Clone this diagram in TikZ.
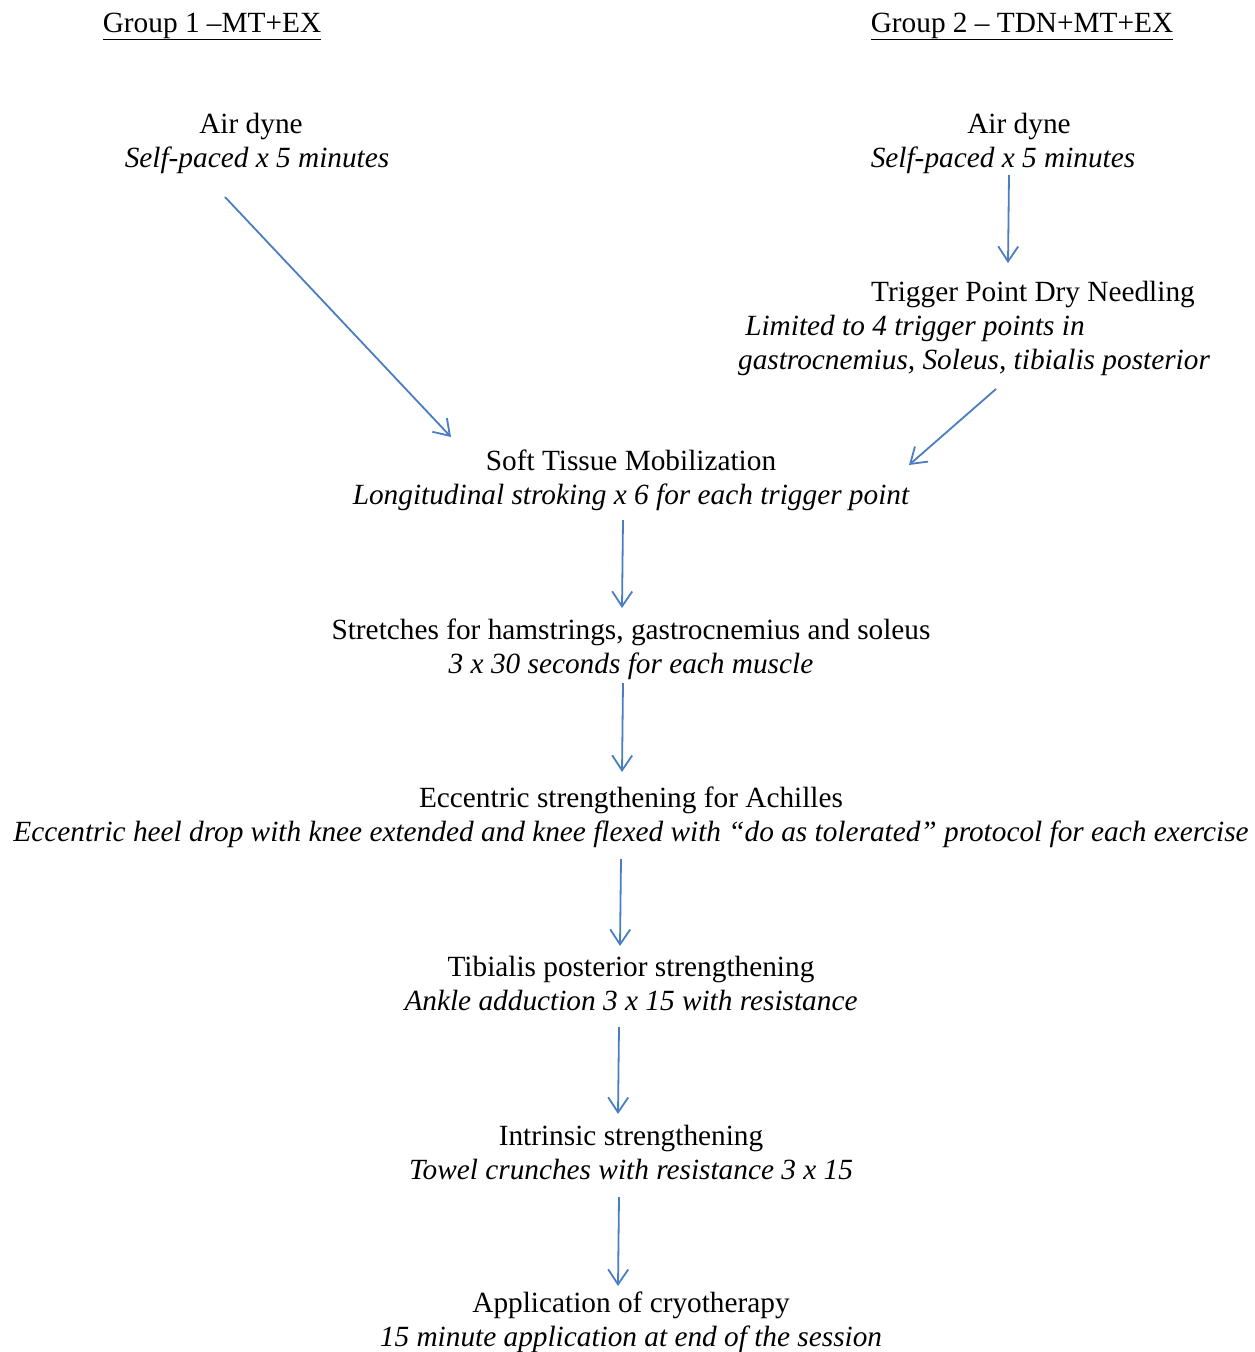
\documentclass[tikz,border=0pt]{standalone}
\usepackage{fontspec}
\setmainfont{Liberation Serif}
\usetikzlibrary{arrows.meta,calc}
\definecolor{arrblue}{HTML}{4A7EC0}
\begin{document}
\begin{tikzpicture}[x=1pt,y=-1pt,
  txt/.style={anchor=base,inner sep=0pt,font=\fontsize{29.3}{34}\selectfont},
  sub/.style={txt,font=\fontsize{29.3}{34}\selectfont\itshape},
  arr/.style={draw=arrblue,line width=1.8pt,-{Straight Barb[length=15pt,width=20pt]}}]
\useasboundingbox (0,0) rectangle (1255,1352);
% headers
\node[txt] (g1) at (212,32) {\underline{Group 1 –MT+EX}};
\node[txt] (g2) at (1022,32) {\underline{Group 2 – TDN+MT+EX}};
% left air dyne
\node[txt] (la1) at (251,133) {Air dyne};
\node[sub] (la2) at (257,167) {Self-paced x 5 minutes};
% right air dyne
\node[txt] (ra1) at (1019,133) {Air dyne};
\node[sub] (ra2) at (1003,167) {Self-paced x 5 minutes};
% trigger point
\node[txt] (tp1) at (1033,301) {Trigger Point Dry Needling};
\node[sub] (tp2) at (915,335) {Limited to 4 trigger points in};
\node[sub] (tp3) at (974,369) {gastrocnemius, Soleus, tibialis posterior};
% main column
\node[txt] (st1) at (631,470) {Soft Tissue Mobilization};
\node[sub] (st2) at (631,504) {Longitudinal stroking x 6 for each trigger point};
\node[txt] (sh1) at (631,639) {Stretches for hamstrings, gastrocnemius and soleus};
\node[sub] (sh2) at (631,673) {3 x 30 seconds for each muscle};
\node[txt] (ec1) at (631,807) {Eccentric strengthening for Achilles};
\node[sub] (ec2) at (631,841) {Eccentric heel drop with knee extended and knee flexed with “do as tolerated” protocol for each exercise};
\node[txt] (tb1) at (631,976) {Tibialis posterior strengthening};
\node[sub] (tb2) at (631,1010) {Ankle adduction 3 x 15 with resistance};
\node[txt] (in1) at (631,1145) {Intrinsic strengthening};
\node[sub] (in2) at (631,1179) {Towel crunches with resistance 3 x 15};
\node[txt] (ap1) at (631,1312) {Application of cryotherapy};
\node[sub] (ap2) at (631,1346) {15 minute application at end of the session};
% connectors
\draw[arr] ($(la2.base)+(-32,30)$) -- ($(st1.base)+(-180,-33)$);
\draw[arr] ($(ra2.base)+(6,8)$) -- ($(tp1.base)+(-25,-38)$);
\draw[arr] ($(tp3.base)+(22,20)$) -- ($(st1.base)+(278,-5)$);
\draw[arr] ($(st2.base)+(-8,16)$) -- ($(sh1.base)+(-9,-31)$);
\draw[arr] ($(sh2.base)+(-8,10)$) -- ($(ec1.base)+(-9,-35)$);
\draw[arr] ($(ec2.base)+(-10,18)$) -- ($(tb1.base)+(-11,-30)$);
\draw[arr] ($(tb2.base)+(-12,17)$) -- ($(in1.base)+(-13,-31)$);
\draw[arr] ($(in2.base)+(-12,18)$) -- ($(ap1.base)+(-13,-26)$);
\end{tikzpicture}
\end{document}
